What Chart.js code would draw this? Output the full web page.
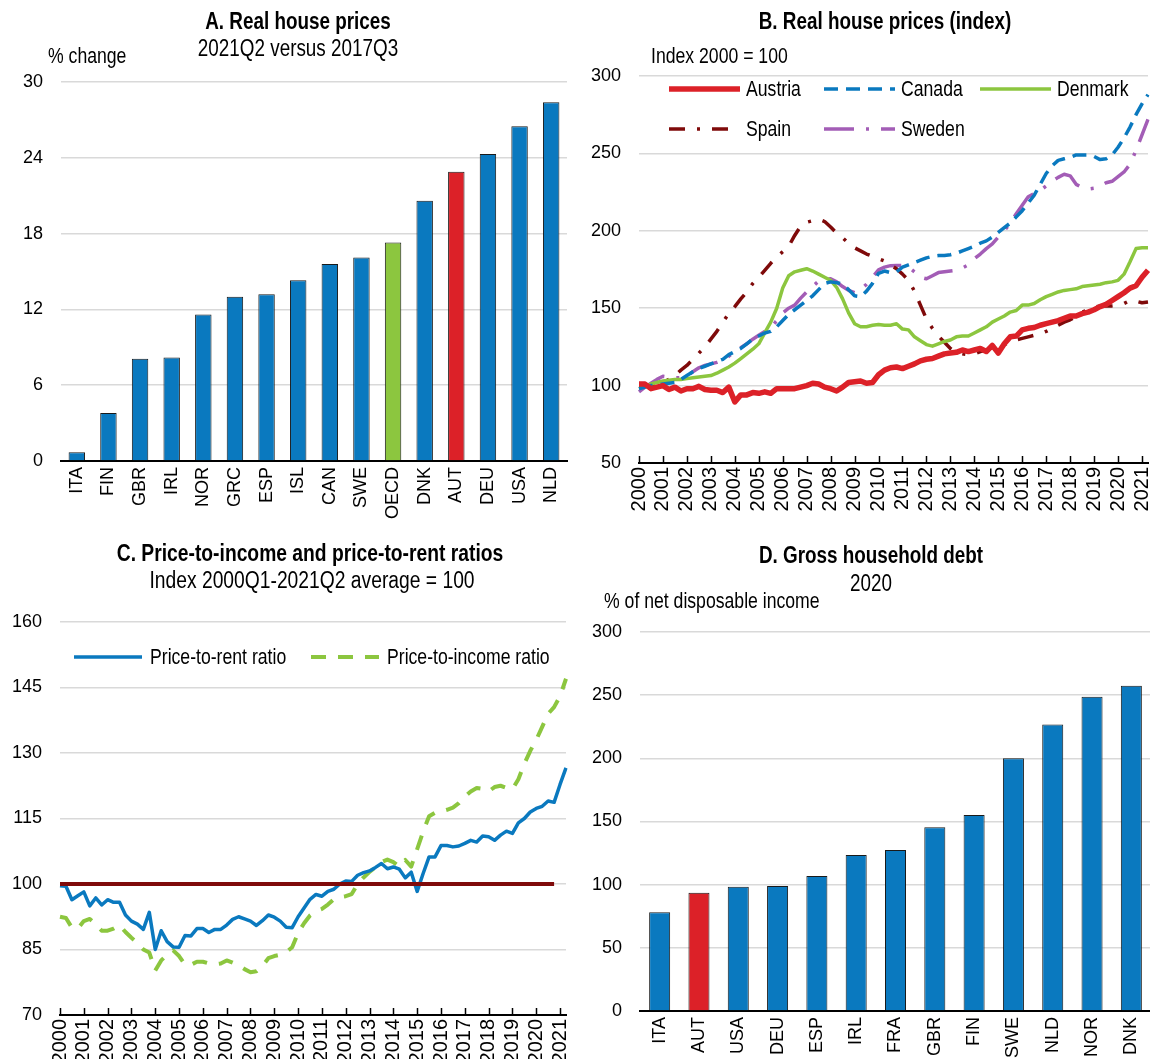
<!DOCTYPE html>
<html lang="en">
<head>
  <meta charset="UTF-8">
  <title>Austria house prices</title>
  <script src="https://cdn.jsdelivr.net/npm/chart.js"></script>
  <style>
    body { margin: 0; background: #fff; width: 1150px; height: 1059px; overflow: hidden; position: relative; }
    canvas { position: absolute; }
  </style>
</head>
<body>
  <canvas id="chartA" width="575" height="530" style="left:0;top:0"></canvas>
  <canvas id="chartB" width="580" height="530" style="left:580px;top:0"></canvas>
  <canvas id="chartC" width="575" height="529" style="left:0;top:530px"></canvas>
  <canvas id="chartD" width="580" height="529" style="left:580px;top:530px"></canvas>

  <script>
    // Panel A: real house prices, % change 2021Q2 vs 2017Q3
    const countriesA = ['ITA', 'FIN', 'GBR', 'IRL', 'NOR', 'GRC', 'ESP', 'ISL', 'CAN', 'SWE', 'OECD', 'DNK', 'AUT', 'DEU', 'USA', 'NLD'];
    const changeA = [0.7, 3.8, 8.1, 8.2, 11.6, 13.0, 13.2, 14.3, 15.6, 16.1, 17.3, 20.6, 22.9, 24.3, 26.5, 28.4];

    // Panel B: real house price index, quarterly 2000Q1 - 2021Q2
    const years = [2000, 2001, 2002, 2003, 2004, 2005, 2006, 2007, 2008, 2009, 2010,
                   2011, 2012, 2013, 2014, 2015, 2016, 2017, 2018, 2019, 2020, 2021];
    const quarters = years.flatMap(y => ['Q1', 'Q2', 'Q3', 'Q4'].map(q => y + q)).slice(0, 86);

    const austria = [
      101, 101, 98, 99, 100, 97.5, 99, 96.5, 98, 98, 99.5, 97.5, 97, 97, 95.5, 99,
      89.5, 94, 94, 95.5, 95, 96, 95, 98, 98, 98, 98, 99, 100, 101.5, 101, 99,
      98, 96.5, 99, 102, 102.5, 103, 101.5, 102, 107, 110, 111.5, 112, 111, 112.5, 114, 116,
      117, 117.5, 119, 120.5, 121, 121.5, 123, 122, 123, 124, 122, 126, 121, 127, 131.5, 132,
      136, 137, 137.5, 139, 140, 141, 142, 143.5, 145, 145, 146.5, 147.5, 149, 151, 152.5, 155,
      157.5, 160, 163, 164.5, 170, 174.5
    ];
    const canada = [
      98, 99, 100, 100.5, 101, 101.5, 102, 104, 106.5, 109, 111, 112.5, 114, 115.5, 117, 120,
      122, 124, 127, 130, 132, 134, 135, 138, 142, 146, 149, 152, 155, 158, 162, 166,
      167, 166.5, 165.5, 162, 158, 157.5, 161, 166, 172.5, 174, 173, 173.5, 176.5, 178, 179.5, 181,
      182.5, 183.5, 184, 184, 184.5, 185.5, 187, 188.5, 190, 192, 193.5, 196, 199, 202, 205, 209,
      213, 218, 223, 230, 237, 242, 245.5, 246.5, 247.5, 249, 249, 249, 248, 246, 246.5, 249,
      254, 260, 267, 275, 282, 288
    ];
    const denmark = [
      98, 99.5, 101, 102, 103, 103.5, 104, 104, 104.5, 105, 105.5, 106, 106.5, 108, 110, 112,
      114.5, 117.5, 120.5, 123.5, 127, 134, 141, 150, 163, 171, 173.5, 174.5, 175.5, 174, 172, 170,
      168, 163.5, 156, 147, 140, 138, 138, 139, 139.5, 139, 139, 140, 136.5, 136, 131.5, 129,
      126.5, 125.5, 127, 128.5, 129.5, 131.5, 132, 132, 134, 136, 138, 141, 143, 145, 147.5, 148.5,
      152, 152, 153, 155.5, 157.5, 159, 160.5, 161.5, 162, 162.5, 164, 164.5, 165, 165.5, 166.5, 167,
      168, 172, 180, 188.5, 189, 189
    ];
    const spain = [
      100, 100, 100.5, 101, 102, 104, 106.5, 110, 113, 117, 121, 125, 130, 135, 141, 146.5,
      151, 156, 160.5, 166, 170, 174.5, 179, 183, 186.5, 190, 197, 203, 205.5, 206.5, 207.5, 206,
      202.5, 198.5, 195.5, 192, 189, 187, 185, 183.5, 182, 180.5, 178, 175.5, 172, 168, 161, 152,
      143, 137, 132, 128, 124, 121.5, 120.5, 120, 120.5, 122, 123, 124.5, 125.5, 126.5, 128, 129.5,
      130.5, 131.5, 132.5, 133.5, 135, 137, 139, 141, 142.5, 144.5, 147.5, 149, 150.5, 151.5, 151.5, 151.5,
      152, 153, 155, 154.5, 153.5, 154
    ];
    const sweden = [
      96, 99, 101.5, 104, 106, 105.5, 105, 105, 106, 109, 111.5, 113, 114, 115, 116.5, 119,
      122, 124.5, 127, 130, 132.5, 135, 137.5, 142, 147, 150, 152, 156.5, 160.5, 164, 167.5, 168.5,
      169, 167, 164, 161.5, 160, 162, 165.5, 170, 174.8, 176.5, 177.5, 177.6, 177.5, 176.5, 173.5, 170,
      169, 171, 173, 173.5, 174, 174.5, 176, 178, 182, 185, 188.5, 191.5, 196, 200, 205, 211,
      216.5, 222, 224, 226, 229, 232, 234.5, 236.5, 235.5, 230, 228, 227, 227.5, 229, 231, 232,
      235, 238, 243, 252, 262, 272
    ];

    // Panel C: price-to-rent and price-to-income ratios (2000Q1-2021Q2 average = 100)
    const priceToRent = [
      99.6, 99.5, 96.4, 97.3, 98.2, 95, 96.8, 95.2, 96.4, 95.8, 95.8, 92.9, 91.5, 90.8, 89.6, 93.5,
      85, 89.3, 86.8, 85.6, 85.5, 88.2, 88.1, 89.8, 89.8, 88.9, 89.6, 89.6, 90.6, 91.9, 92.5, 92,
      91.5, 90.5, 91.6, 92.9, 92.4, 91.5, 90.1, 90, 92.5, 94.5, 96.5, 97.6, 97.2, 98.3, 98.8, 100,
      100.7, 100.6, 102, 102.6, 103, 103.8, 104.7, 103.5, 103.9, 103.4, 101.4, 102.7, 98.3, 102.4, 106.2, 106.2,
      108.8, 108.8, 108.5, 108.7, 109.3, 110, 109.6, 111, 110.8, 110, 111.2, 112.1, 111.6, 114, 115, 116.5,
      117.3, 117.8, 119, 118.7, 122.8, 126.6
    ];
    const priceToIncome = [
      92.5, 92.2, 90, 89.8, 91.5, 92, 90.8, 89.3, 89.3, 89.8, 90.6, 89, 87.7, 86.5, 85, 84.3,
      80.2, 82.5, 83.8, 84.8, 83.5, 81.5, 81.5, 82.2, 82.2, 81.8, 81.6, 81.8, 82.5, 82, 81.4, 80.5,
      79.8, 80, 81.2, 83, 83.5, 83.8, 84.4, 85.5, 88.8, 91, 92.8, 93.8, 94.3, 95.3, 96.5, 97,
      97.2, 97.7, 100, 101.5, 102.8, 103.8, 105, 105.6, 105, 104, 105.5, 104, 108, 112, 115.5, 116.3,
      116.6, 117, 117.5, 118.5, 120, 121.2, 122, 121.8, 121.2, 122.2, 122.5, 122, 121.7, 124, 127.5, 130.5,
      133, 136, 139, 140.5, 143, 147
    ];
    const averageLevel = 100;

    // Panel D: gross household debt 2020, % of net disposable income
    const countriesD = ['ITA', 'AUT', 'USA', 'DEU', 'ESP', 'IRL', 'FRA', 'GBR', 'FIN', 'SWE', 'NLD', 'NOR', 'DNK'];
    const debtD = [78.2, 93.6, 98.3, 98.9, 106.8, 123.4, 127.4, 145.4, 155.2, 200.1, 226.8, 248.7, 257.5];

    const BLUE = '#0a79bf';
    const RED = '#dc2128';
    const GREEN = '#8cc63f';
    const DARKRED = '#7f0a0a';
    const PURPLE = '#a35db6';
    const GRID = '#d9d9d9';
    const FONT = '"Liberation Sans", Arial, sans-serif';
    const SQUEEZE = 0.82;   // no narrow face installed, so squeeze the free text by hand

    Chart.defaults.font.family = FONT;
    Chart.defaults.font.size = 18;
    Chart.defaults.color = '#000';
    Chart.defaults.animation = false;

    function narrowText(ctx, text, x, y, font, align) {
      ctx.save();
      ctx.font = font;
      ctx.fillStyle = '#000';
      ctx.textAlign = align || 'left';
      ctx.textBaseline = 'middle';
      ctx.translate(x, y);
      ctx.scale(SQUEEZE, 1);
      ctx.fillText(text, 0, 0);
      ctx.restore();
    }

    // free text (titles, unit labels) at fixed spots
    const panelText = {
      id: 'panelText',
      afterDraw(chart, args, opts) {
        (opts.items || []).forEach(t => {
          narrowText(chart.ctx, t.text, t.x, t.y,
            (t.bold ? 'bold ' : '') + t.size + 'px ' + FONT, t.align || 'center');
        });
      }
    };

    // legend with line samples laid out in fixed columns
    const lineKey = {
      id: 'lineKey',
      afterDraw(chart, args, opts) {
        const ctx = chart.ctx;
        (opts.items || []).forEach(it => {
          const ds = chart.data.datasets[it.ds];
          ctx.save();
          ctx.strokeStyle = ds.borderColor;
          ctx.lineWidth = ds.borderWidth;
          ctx.setLineDash(ds.borderDash || []);
          ctx.lineCap = 'butt';
          ctx.beginPath();
          ctx.moveTo(it.x, it.y);
          ctx.lineTo(it.x + opts.len, it.y);
          ctx.stroke();
          ctx.restore();
          narrowText(ctx, ds.label, it.x + opts.len + opts.gap, it.y + 1, '21.5px ' + FONT, 'left');
        });
      }
    };

    // small tick marks pointing up from the time axis at each year
    const yearTicks = {
      id: 'yearTicks',
      afterDraw(chart, args, opts) {
        if (!opts.on) return;
        const ctx = chart.ctx;
        const xs = chart.scales.x;
        const bottom = chart.chartArea.bottom;
        ctx.save();
        ctx.strokeStyle = '#000';
        ctx.lineWidth = 1.5;
        xs.ticks.forEach((t, i) => {
          if (!t.label) return;
          const x = Math.round(xs.getPixelForTick(i)) + 0.5;
          ctx.beginPath();
          ctx.moveTo(x, bottom);
          ctx.lineTo(x, bottom - 7);
          ctx.stroke();
        });
        ctx.restore();
      }
    };

    function yAxis(min, max, step, width) {
      return {
        min: min, max: max,
        ticks: { stepSize: step, padding: 18, color: '#000', font: { size: 18 } },
        grid: { color: GRID, lineWidth: 1.5, drawTicks: false },
        border: { display: false },
        afterFit(s) { s.width = width; }
      };
    }

    function catAxis(height, padding) {
      return {
        ticks: { autoSkip: false, maxRotation: 90, minRotation: 90, padding: padding, color: '#000',
                 font: { size: 18 } },
        grid: { display: false, drawTicks: false },
        border: { display: true, color: '#000', width: 2 },
        afterFit(s) {
          s.height = height;
          // keep the plot edges where the layout padding puts them
          s.paddingLeft = 0;
          s.paddingRight = 0;
        }
      };
    }

    function timeAxis(height) {
      const ax = catAxis(height, 4);
      ax.ticks.font = { size: 20 };
      ax.ticks.callback = function (val) {
        const l = this.getLabelForValue(val);
        return l.endsWith('Q1') ? l.slice(0, 4) : '';
      };
      return ax;
    }

    function barColour(c) {
      if (c === 'AUT') return RED;
      if (c === 'OECD') return GREEN;
      return BLUE;
    }

    // A
    new Chart(document.getElementById('chartA'), {
      type: 'bar',
      data: {
        labels: countriesA,
        datasets: [{
          data: changeA,
          backgroundColor: countriesA.map(barColour),
          borderColor: '#1a1a1a',
          borderWidth: 1,
          barPercentage: 0.52,
          categoryPercentage: 1
        }]
      },
      options: {
        responsive: false,
        devicePixelRatio: 1,
        layout: { padding: { left: 0, top: 82, right: 8, bottom: 0 } },
        scales: { x: catAxis(69, 6), y: yAxis(0, 30, 6, 61) },
        plugins: {
          legend: { display: false },
          tooltip: { enabled: false },
          panelText: { items: [
            { text: 'A. Real house prices', x: 298, y: 23, size: 23, bold: true },
            { text: '2021Q2 versus 2017Q3', x: 298, y: 50, size: 23 },
            { text: '% change', x: 48, y: 57, size: 21.5, align: 'left' }
          ] }
        }
      },
      plugins: [panelText]
    });

    // B
    new Chart(document.getElementById('chartB'), {
      type: 'line',
      data: {
        labels: quarters,
        datasets: [
          { label: 'Austria', data: austria, borderColor: RED, borderWidth: 5.5 },
          { label: 'Canada', data: canada, borderColor: BLUE, borderWidth: 3.5, borderDash: [14, 8] },
          { label: 'Denmark', data: denmark, borderColor: GREEN, borderWidth: 3.5 },
          { label: 'Spain', data: spain, borderColor: DARKRED, borderWidth: 3.5, borderDash: [16, 12, 3, 12] },
          { label: 'Sweden', data: sweden, borderColor: PURPLE, borderWidth: 3.5, borderDash: [30, 12, 3, 12] }
        ]
      },
      options: {
        responsive: false,
        devicePixelRatio: 1,
        elements: { point: { radius: 0 }, line: { tension: 0, borderJoinStyle: 'round' } },
        layout: { padding: { left: 0, top: 76, right: 12, bottom: 0 } },
        scales: { x: timeAxis(67), y: yAxis(50, 300, 50, 59) },
        plugins: {
          legend: { display: false },
          tooltip: { enabled: false },
          yearTicks: { on: true },
          lineKey: { len: 71, gap: 6, items: [
            { ds: 0, x: 89, y: 89 }, { ds: 1, x: 244, y: 89 }, { ds: 2, x: 400, y: 89 },
            { ds: 3, x: 89, y: 129 }, { ds: 4, x: 244, y: 129 }
          ] },
          panelText: { items: [
            { text: 'B. Real house prices (index)', x: 305, y: 23, size: 23, bold: true },
            { text: 'Index 2000 = 100', x: 71, y: 57, size: 21.5, align: 'left' }
          ] }
        }
      },
      plugins: [panelText, lineKey, yearTicks]
    });

    // C
    new Chart(document.getElementById('chartC'), {
      type: 'line',
      data: {
        labels: quarters,
        datasets: [
          { label: 'Average', data: [{ x: quarters[0], y: averageLevel }, { x: '2020Q4', y: averageLevel }],
            borderColor: DARKRED, borderWidth: 4 },
          { label: 'Price-to-rent ratio', data: priceToRent, borderColor: BLUE, borderWidth: 3.5 },
          { label: 'Price-to-income ratio', data: priceToIncome, borderColor: GREEN, borderWidth: 4, borderDash: [15, 12] }
        ]
      },
      options: {
        responsive: false,
        devicePixelRatio: 1,
        elements: { point: { radius: 0 }, line: { tension: 0, borderJoinStyle: 'round' } },
        layout: { padding: { left: 0, top: 92, right: 9, bottom: 0 } },
        scales: { x: timeAxis(44), y: yAxis(70, 160, 15, 60) },
        plugins: {
          legend: { display: false },
          tooltip: { enabled: false },
          yearTicks: { on: true },
          lineKey: { len: 68, gap: 8, items: [
            { ds: 1, x: 74, y: 127 }, { ds: 2, x: 311, y: 127 }
          ] },
          panelText: { items: [
            { text: 'C. Price-to-income and price-to-rent ratios', x: 310, y: 25, size: 23.5, bold: true },
            { text: 'Index 2000Q1-2021Q2 average = 100', x: 312, y: 52, size: 23.5 }
          ] }
        }
      },
      plugins: [panelText, lineKey, yearTicks]
    });

    // D
    new Chart(document.getElementById('chartD'), {
      type: 'bar',
      data: {
        labels: countriesD,
        datasets: [{
          data: debtD,
          backgroundColor: countriesD.map(barColour),
          borderColor: '#1a1a1a',
          borderWidth: 1,
          barPercentage: 0.535,
          categoryPercentage: 1
        }]
      },
      options: {
        responsive: false,
        devicePixelRatio: 1,
        layout: { padding: { left: 0, top: 102, right: 9, bottom: 0 } },
        scales: { x: catAxis(48, 6), y: yAxis(0, 300, 50, 60) },
        plugins: {
          legend: { display: false },
          tooltip: { enabled: false },
          panelText: { items: [
            { text: 'D. Gross household debt', x: 291, y: 27, size: 23, bold: true },
            { text: '2020', x: 291, y: 55, size: 23 },
            { text: '% of net disposable income', x: 24, y: 72, size: 21.5, align: 'left' }
          ] }
        }
      },
      plugins: [panelText]
    });
  </script>
</body>
</html>
